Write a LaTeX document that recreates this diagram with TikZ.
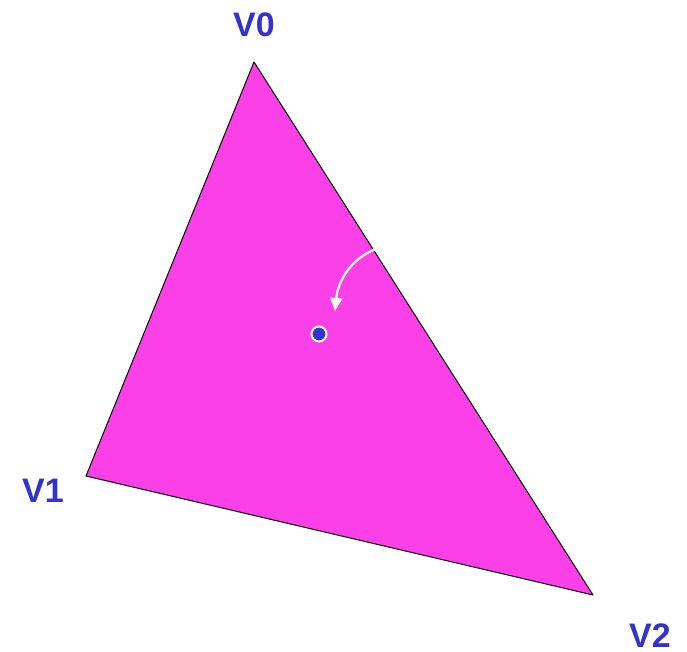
\documentclass[tikz,border=0pt]{standalone}
\usepackage{fontspec}
\setmainfont{Liberation Sans}
\usetikzlibrary{arrows.meta}
\definecolor{tri}{RGB}{250,64,230}
\definecolor{lbl}{RGB}{51,51,204}
\begin{document}
\begin{tikzpicture}[x=1pt,y=-1pt,
  vlabel/.style={font=\fontsize{34}{34}\selectfont\bfseries, text=lbl, inner sep=0pt, anchor=center}]
\useasboundingbox (0,0) rectangle (687,652);
\coordinate (v0) at (254,62);
\coordinate (v1) at (86,476);
\coordinate (v2) at (593,595);
\fill[tri] (v0) -- (v1) -- (v2) -- cycle;
\draw[black, line width=1pt, line join=round] (v0) -- (v1) -- (v2) -- cycle;
\node[vlabel] (l0) at (254,25) {V0};
\node[vlabel] (l1) at (43,491) {V1};
\node[vlabel] (l2) at (650,636) {V2};
\coordinate (a0) at (376,249);
\coordinate (a1) at (335,311);
\draw[white, line width=2.2pt, -{Triangle[length=13pt,width=12pt]}] (a0) .. controls (352,258) and (338,280) .. (a1);
\node[circle, fill=lbl, draw=white, line width=2pt, minimum size=15pt, inner sep=0pt] (dot) at (319,334) {};
\end{tikzpicture}
\end{document}
